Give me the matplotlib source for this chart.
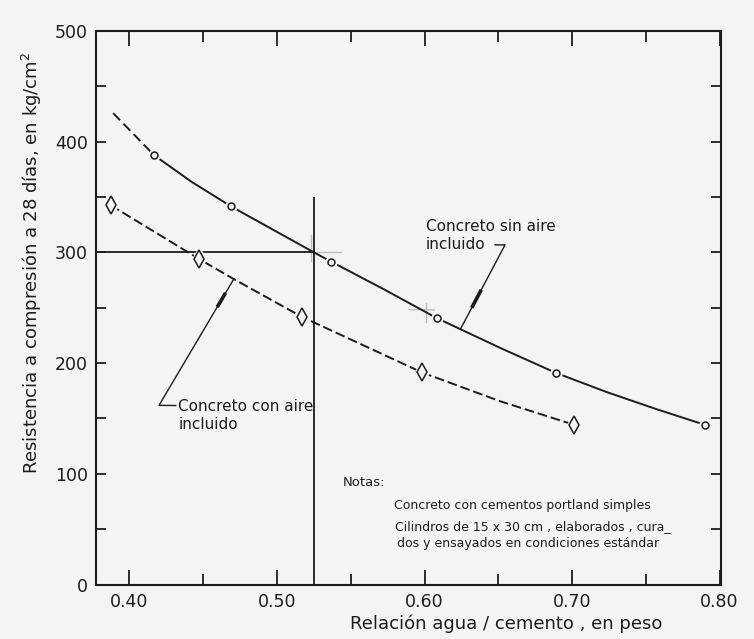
import matplotlib.pyplot as plt
from matplotlib.ticker import MultipleLocator, FixedLocator, FixedFormatter

sin_x = [0.389, 0.4167, 0.4418, 0.4689, 0.5253, 0.5368, 0.5727, 0.6084,
         0.6517, 0.6890, 0.7240, 0.7579, 0.7902]
sin_y = [425.7, 387.8, 364.0, 341.5, 299.8, 291.6, 266.5, 240.6,
         213.5, 191.2, 173.6, 158.1, 144.2]
circ_x = [0.4167, 0.4689, 0.5368, 0.6084, 0.6890, 0.7902]
circ_y = [387.8, 341.5, 291.6, 240.6, 191.2, 144.2]

# Concreto con aire incluido: dashed curve and diamond points
con_x = [0.3873, 0.4470, 0.4707, 0.5170, 0.5982, 0.6514, 0.7011]
con_y = [342.6, 294.2, 275.9, 241.7, 191.6, 165.5, 144.4]
diam_x = [0.3873, 0.4470, 0.5170, 0.5982, 0.7011]
diam_y = [342.6, 294.2, 241.7, 191.6, 144.4]

# example reading: 300 kg/cm2 -> a/c 0.525
guide_x = 0.525
guide_y = 300
guide_top = 349

xticks = [0.40, 0.50, 0.60, 0.70, 0.80]
xtick_labels = ['0.40', '0.50', '0.60', '0.70', '0.80']
yticks = [0, 100, 200, 300, 400, 500]

bg = '#f4f4f2'
ink = '#1c1c1c'

fig = plt.figure(figsize=(7.54, 6.39), dpi=100, facecolor=bg)
ax = fig.add_axes([96/754, 1 - 584.5/639, 625/754, 553.5/639], facecolor=bg)
ax.set_xlim(0.3773, 0.801)
ax.set_ylim(0, 500)

# guide lines
ax.plot([0.3773, guide_x], [guide_y, guide_y], color=ink, lw=1.3, zorder=2)
ax.plot([guide_x, guide_x], [0, guide_top], color=ink, lw=1.3, zorder=2)
# faint construction marks
ax.plot([0.5231, 0.5231], [291.8, 315.9], color='#bdbdbd', lw=1, zorder=1)
ax.plot([guide_x, 0.5435], [300.5, 300.5], color='#bdbdbd', lw=1, zorder=1)
ax.plot([0.601, 0.601], [236.7, 254.7], color='#bdbdbd', lw=1, zorder=1)
ax.plot([0.5896, 0.6066], [248.3, 248.1], color='#bdbdbd', lw=1, zorder=1)

# curves
ax.plot(sin_x[:2], sin_y[:2], color=ink, lw=1.4, ls=(0, (5, 2.5)), zorder=3)
ax.plot(sin_x[1:], sin_y[1:], color=ink, lw=1.4, zorder=3)
ax.plot(con_x, con_y, color=ink, lw=1.4, ls=(0, (5, 2)), zorder=3)

# markers with a small gap around them
ax.plot(circ_x, circ_y, ls='none', marker='o', ms=9, mfc=bg, mec='none', zorder=4)
ax.plot(circ_x, circ_y, ls='none', marker='o', ms=5, mfc=bg, mec=ink, mew=1.1, zorder=5)
ax.plot(diam_x, diam_y, ls='none', marker='d', ms=13, mfc=bg, mec='none', zorder=4)
ax.plot(diam_x, diam_y, ls='none', marker='d', ms=9, mfc=bg, mec=ink, mew=1.1, zorder=5)

# leaders and labels
ax.plot([0.4707, 0.4200, 0.4314], [275.9, 161.8, 161.7], color=ink, lw=1, zorder=3)
ax.plot([0.4601, 0.4645], [252, 262], color=ink, lw=2.6, zorder=3)
ax.text(0.4331, 160.7, 'Concreto con aire', fontsize=11, color=ink, va='center', ha='left')
ax.text(0.4331, 144.1, 'incluido', fontsize=11, color=ink, va='center', ha='left')

ax.plot([0.6246, 0.6546, 0.6478], [231.3, 306.8, 306.8], color=ink, lw=1, zorder=3)
ax.plot([0.6326, 0.6379], [251.4, 264.8], color=ink, lw=2.6, zorder=3)
ax.text(0.6007, 323, 'Concreto sin aire', fontsize=11, color=ink, va='center', ha='left')
ax.text(0.6007, 307.4, 'incluido', fontsize=11, color=ink, va='center', ha='left')

# notes
ax.text(0.5447, 92, 'Notas:', fontsize=9.5, color=ink, va='center', ha='left')
ax.text(0.5793, 71.7, 'Concreto con cementos portland simples', fontsize=9,
        color=ink, va='center', ha='left')
ax.text(0.5798, 52.1, 'Cilindros de 15 x 30 cm , elaborados , cura_', fontsize=9,
        color=ink, va='center', ha='left')
ax.text(0.5812, 37.2, 'dos y ensayados en condiciones estándar', fontsize=9,
        color=ink, va='center', ha='left')

# axes styling
ax.xaxis.set_major_locator(FixedLocator(xticks))
ax.xaxis.set_major_formatter(FixedFormatter(xtick_labels))
ax.xaxis.set_minor_locator(MultipleLocator(0.05))
ax.yaxis.set_major_locator(FixedLocator(yticks))
ax.yaxis.set_minor_locator(MultipleLocator(50))
ax.tick_params(which='both', direction='in', top=True, right=True,
               color=ink, width=1.3, labelsize=12.5, labelcolor=ink)
ax.tick_params(axis='x', which='major', length=10.5, pad=6)
ax.tick_params(axis='x', which='minor', length=8)
ax.tick_params(axis='y', which='both', length=7, pad=6)
for s in ax.spines.values():
    s.set_color(ink)
    s.set_linewidth(1.5)

ax.set_xlabel('Relación agua / cemento , en peso', fontsize=13, color=ink)
ax.xaxis.set_label_coords(0.656, -0.055)
ax.set_ylabel('Resistencia a compresión a 28 días, en kg/cm$^2$', fontsize=13, color=ink)
ax.yaxis.set_label_coords(-0.083, 0.581)

fig.savefig('out.png', dpi=100, facecolor=bg)
